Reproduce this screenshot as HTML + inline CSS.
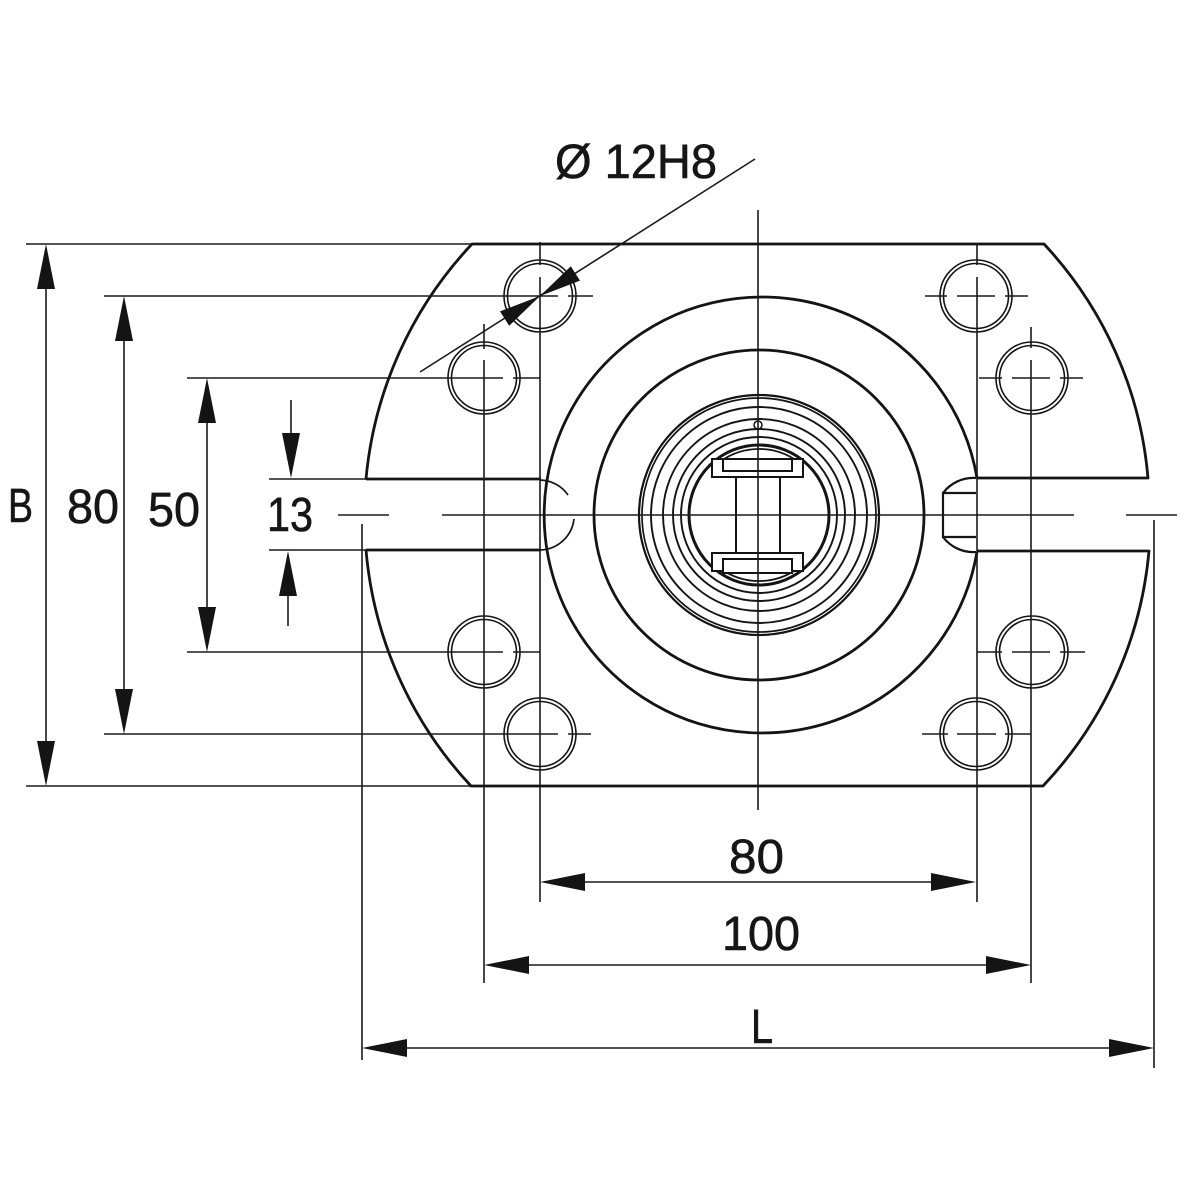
<!DOCTYPE html>
<html>
<head>
<meta charset="utf-8">
<style>
  html,body{margin:0;padding:0;background:#fff;}
  svg{display:block;}
  text{font-family:"Liberation Sans",sans-serif;fill:#161616;stroke:#161616;stroke-width:0.6;}
</style>
</head>
<body>
<svg width="1200" height="1200" viewBox="0 0 1200 1200" xmlns="http://www.w3.org/2000/svg">
  <rect width="1200" height="1200" fill="#fff"/>

  <!-- ===== Main outline (thick) ===== -->
  <g fill="none" stroke="#141414" stroke-width="2.8" stroke-linejoin="round">
    <path d="M366 479 A395 395 0 0 1 472 244 L1044 244 A392 392 0 0 1 1148 478 L977 478"/>
    <path d="M366 479 L541 479"/>
    <path d="M366 550 A395 395 0 0 0 471 786 L1043 786 A392 392 0 0 0 1149 551 L977 551"/>
    <path d="M366 550 L541 550"/>
    <path d="M977 478 A218 218 0 1 0 977 552"/>
    <circle cx="759" cy="515" r="165"/>
  </g>

  <!-- right keyway -->
  <g fill="none" stroke="#141414" stroke-width="2.2">
    <path d="M976 478 A38 38 0 0 0 943 493"/>
    <path d="M943 537 A38 38 0 0 0 976 552"/>
    <path d="M976 493 L943 493 L943 537 L976 537"/>
  </g>
  <!-- left hidden arc in slot -->
  <g fill="none" stroke="#141414" stroke-width="1.7">
    <path d="M540 480 A35 35 0 0 1 568 495"/>
    <path d="M574 519 A35 35 0 0 1 540 550"/>
  </g>

  <!-- ===== Inner rings ===== -->
  <g fill="none" stroke="#141414">
    <circle cx="759" cy="515" r="120" stroke-width="2.2"/>
    <circle cx="759" cy="515" r="117" stroke-width="1.7"/>
    <circle cx="759" cy="515" r="108" stroke-width="1.9"/>
    <circle cx="759" cy="515" r="96" stroke-width="1.9"/>
    <circle cx="759" cy="515" r="86" stroke-width="1.9"/>
    <circle cx="759" cy="515" r="78" stroke-width="1.9"/>
    <circle cx="759" cy="515" r="70" stroke-width="3"/>
    <path d="M721 461 A66 66 0 0 1 797 461" stroke-width="1.8"/>
    <path d="M721 569 A66 66 0 0 0 797 569" stroke-width="1.8"/>
    <circle cx="758" cy="425" r="4" stroke-width="1.5"/>
  </g>
  <!-- I-shaped insert -->
  <g fill="#fff" stroke="#141414" stroke-width="2">
    <rect x="712" y="459" width="91" height="18"/>
    <rect x="723" y="459" width="69" height="12"/>
    <rect x="712" y="553" width="91" height="18"/>
    <rect x="723" y="559" width="69" height="14"/>
    <path d="M736 477 L736 553 M780 477 L780 553" fill="none"/>
  </g>

  <!-- ===== Bolt holes (double circles) ===== -->
  <g fill="none" stroke="#141414" stroke-width="1.6">
    <circle cx="540" cy="296" r="36"/><circle cx="540" cy="296" r="32.5"/>
    <circle cx="484" cy="378" r="36"/><circle cx="484" cy="378" r="32.5"/>
    <circle cx="484" cy="652" r="36"/><circle cx="484" cy="652" r="32.5"/>
    <circle cx="540" cy="734" r="36"/><circle cx="540" cy="734" r="32.5"/>
    <circle cx="976" cy="296" r="36"/><circle cx="976" cy="296" r="32.5"/>
    <circle cx="1032" cy="378" r="36"/><circle cx="1032" cy="378" r="32.5"/>
    <circle cx="1032" cy="652" r="36"/><circle cx="1032" cy="652" r="32.5"/>
    <circle cx="976" cy="734" r="36"/><circle cx="976" cy="734" r="32.5"/>
  </g>

  <!-- ===== Thin lines ===== -->
  <g fill="none" stroke="#1a1a1a" stroke-width="1.6">
    <path d="M758 210 L758 810"/>
    <path d="M338 515 L389 515 M442 515 L1074 515 M1126 515 L1177 515"/>

    <path d="M26 244 L472 244"/>
    <path d="M26 786 L471 786"/>
    <path d="M104 296 L558 296 M568 296 L593 296"/>
    <path d="M104 734 L558 734 M568 734 L591 734"/>
    <path d="M187 378 L503 378 M513 378 L540 378"/>
    <path d="M187 652 L503 652 M513 652 L540 652"/>
    <path d="M269 479 L366 479"/>
    <path d="M269 550 L366 550"/>

    <path d="M925 296 L947 296 M957 296 L995 296 M1005 296 L1028 296"/>
    <path d="M979 378 L1002 378 M1012 378 L1050 378 M1060 378 L1083 378"/>
    <path d="M977 652 L1002 652 M1012 652 L1050 652 M1060 652 L1085 652"/>
    <path d="M922 734 L948 734 M957 734 L996 734 M1005 734 L1031 734"/>

    <path d="M540 242 L540 265 M540 277 L540 902"/>
    <path d="M977 244 L977 265 M977 277 L977 902"/>
    <path d="M484 324 L484 349 M484 360 L484 983"/>
    <path d="M1031 327 L1031 348 M1031 360 L1031 983"/>
    <path d="M362 524 L362 1060"/>
    <path d="M1154 520 L1154 1068"/>

    <path d="M46 280 L46 750"/>
    <path d="M124 330 L124 700"/>
    <path d="M207 410 L207 620"/>
    <path d="M291 400 L291 440"/>
    <path d="M288 590 L288 626"/>
    <path d="M575 882 L941 882"/>
    <path d="M519 965 L996 965"/>
    <path d="M397 1048 L1119 1048"/>

    <path d="M420 372 L755 159"/>
  </g>

  <!-- ===== Arrowheads ===== -->
  <g fill="#141414" stroke="none">
    <polygon points="46,244 37,289 55,289"/>
    <polygon points="46,786 37,741 55,741"/>
    <polygon points="124,296 115,341 133,341"/>
    <polygon points="124,734 115,689 133,689"/>
    <polygon points="207,378 198,423 216,423"/>
    <polygon points="207,652 198,607 216,607"/>
    <polygon points="291,478 282,433 300,433"/>
    <polygon points="288,551 279,596 297,596"/>
    <polygon points="540,882 585,873 585,891"/>
    <polygon points="976,882 931,873 931,891"/>
    <polygon points="484,965 529,956 529,974"/>
    <polygon points="1031,965 986,956 986,974"/>
    <polygon points="362,1048 407,1039 407,1057"/>
    <polygon points="1154,1048 1109,1039 1109,1057"/>
    <polygon points="540,296 509.2,325.8 500.0,311.4"/>
    <polygon points="540,296 580.0,280.6 570.8,266.2"/>
  </g>

  <!-- ===== Text ===== -->
  <g font-size="48">
    <text x="555" y="178" textLength="162" lengthAdjust="spacingAndGlyphs">Ø 12H8</text>
    <text x="8" y="522" textLength="25" lengthAdjust="spacingAndGlyphs">B</text>
    <text x="67" y="523" textLength="52" lengthAdjust="spacingAndGlyphs">80</text>
    <text x="148" y="526" textLength="52" lengthAdjust="spacingAndGlyphs">50</text>
    <text x="267" y="531" textLength="46" lengthAdjust="spacingAndGlyphs">13</text>
    <text x="729" y="873" textLength="55" lengthAdjust="spacingAndGlyphs">80</text>
    <text x="722" y="950" textLength="78" lengthAdjust="spacingAndGlyphs">100</text>
    <text x="751" y="1043" textLength="22" lengthAdjust="spacingAndGlyphs">L</text>
  </g>
</svg>
</body>
</html>
